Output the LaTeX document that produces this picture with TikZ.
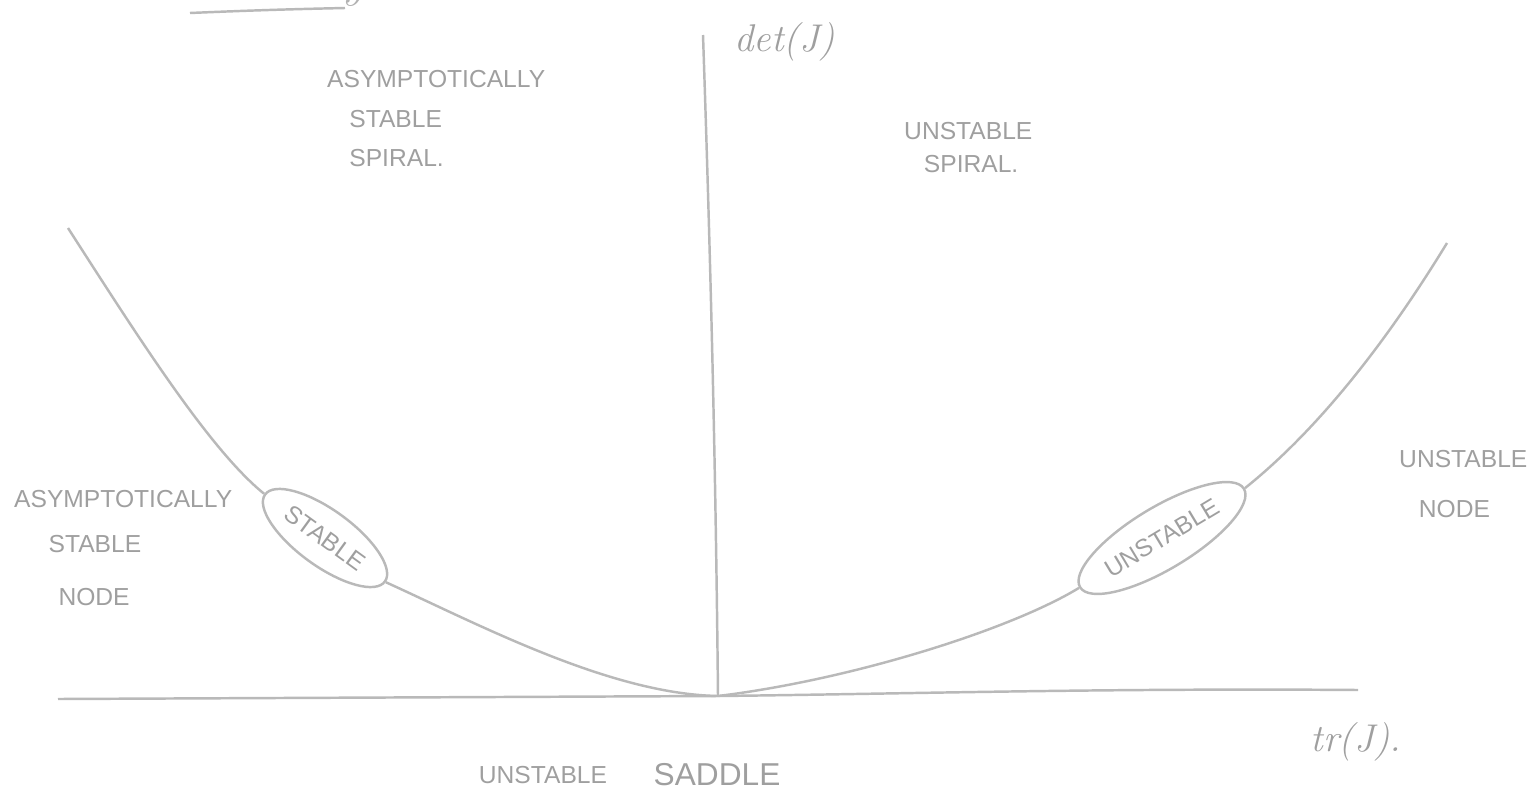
\documentclass[tikz,border=0pt]{standalone}
\usepackage{fontspec}
\setsansfont{Liberation Sans}
\usetikzlibrary{positioning,shapes.geometric}

\begin{document}
\begin{tikzpicture}[
  x=0.01cm, y=-0.01cm,
  pencil/.style={draw=gray!55, line width=0.7pt},
  lbl/.style   ={font=\sffamily\fontsize{7}{8.5}\selectfont, text=gray!75,
                 align=left, inner sep=1pt},
  oval/.style  ={ellipse, draw=gray!55, line width=0.7pt, inner sep=1pt,
                 font=\sffamily\fontsize{7}{8.5}\selectfont, text=gray!75},
  axlbl/.style ={font=\itshape\fontsize{11}{12}\selectfont, text=gray!75}
]
\useasboundingbox (0,0) rectangle (1536,800);
\clip (0,0) rectangle (1536,800);

%% --- Cut-off heading -----------------------------------------
\node[font=\itshape\fontsize{14}{14}\selectfont, text=gray!60, anchor=base]
     (head) at (265,-3) {Summary};
\draw[pencil] (190,13) .. controls (260,10) and (300,9) .. (345,8);

%% --- Axes ----------------------------------------------------
\coordinate (orig) at (718,696);
\coordinate (ytop) at (703,35);
\coordinate (xl)   at (58,699);
\coordinate (xr)   at (1358,690);
\draw[pencil] (ytop) .. controls (712,300) and (716,500) .. (orig);
\draw[pencil] (xl) -- (orig) .. controls (900,694) and (1100,688) .. (xr);
\node[axlbl, anchor=west] (det) at (722,42) {det(J)};
\node[axlbl, anchor=west] (tr)  at (1298,742) {tr(J).};

%% --- Ovals on the parabola -----------------------------------
\node[oval, rotate=-36, minimum width=1.48cm, minimum height=0.56cm]
     (stab) at (325,538) {STABLE};
\node[oval, rotate=31, minimum width=1.66cm, minimum height=0.62cm]
     (unst) at (1162,538) {UNSTABLE};

%% --- Parabola det = tr^2/4 -----------------------------------
\coordinate (ltop) at (68,228);
\coordinate (rtop) at (1447,243);
\draw[pencil] (ltop) .. controls (140,340) and (210,450) .. (stab.west);
\draw[pencil] (stab.east) .. controls (480,625) and (610,694) .. (orig);
\draw[pencil] (orig) .. controls (850,680) and (1010,630) .. (unst.west);
\draw[pencil] (unst.east) .. controls (1330,420) and (1400,320) .. (rtop);

%% --- Region labels -------------------------------------------
\node[lbl, anchor=north west] (asspir) at (323,66)
     {ASYMPTOTICALLY\\[2.8pt]\hspace*{0.9em}STABLE\\[2.8pt]\hspace*{0.9em}SPIRAL.};
\node[lbl, anchor=north west] (unspir) at (900,118)
     {UNSTABLE\\[1pt]\hspace*{0.8em}SPIRAL.};
\node[lbl, anchor=north west] (asnode) at (10,486)
     {ASYMPTOTICALLY\\[4.3pt]\hspace*{1.4em}STABLE\\[6.5pt]\hspace*{1.8em}NODE};
\node[lbl, anchor=north west] (unnode) at (1395,446)
     {UNSTABLE\\[5.7pt]\hspace*{0.8em}NODE};
\node[lbl] (unsad) at (543,775) {UNSTABLE};
\node[font=\sffamily\fontsize{9}{11}\selectfont, text=gray!75,
      right=0.3cm of unsad] (sad) {SADDLE};

\end{tikzpicture}
\end{document}
